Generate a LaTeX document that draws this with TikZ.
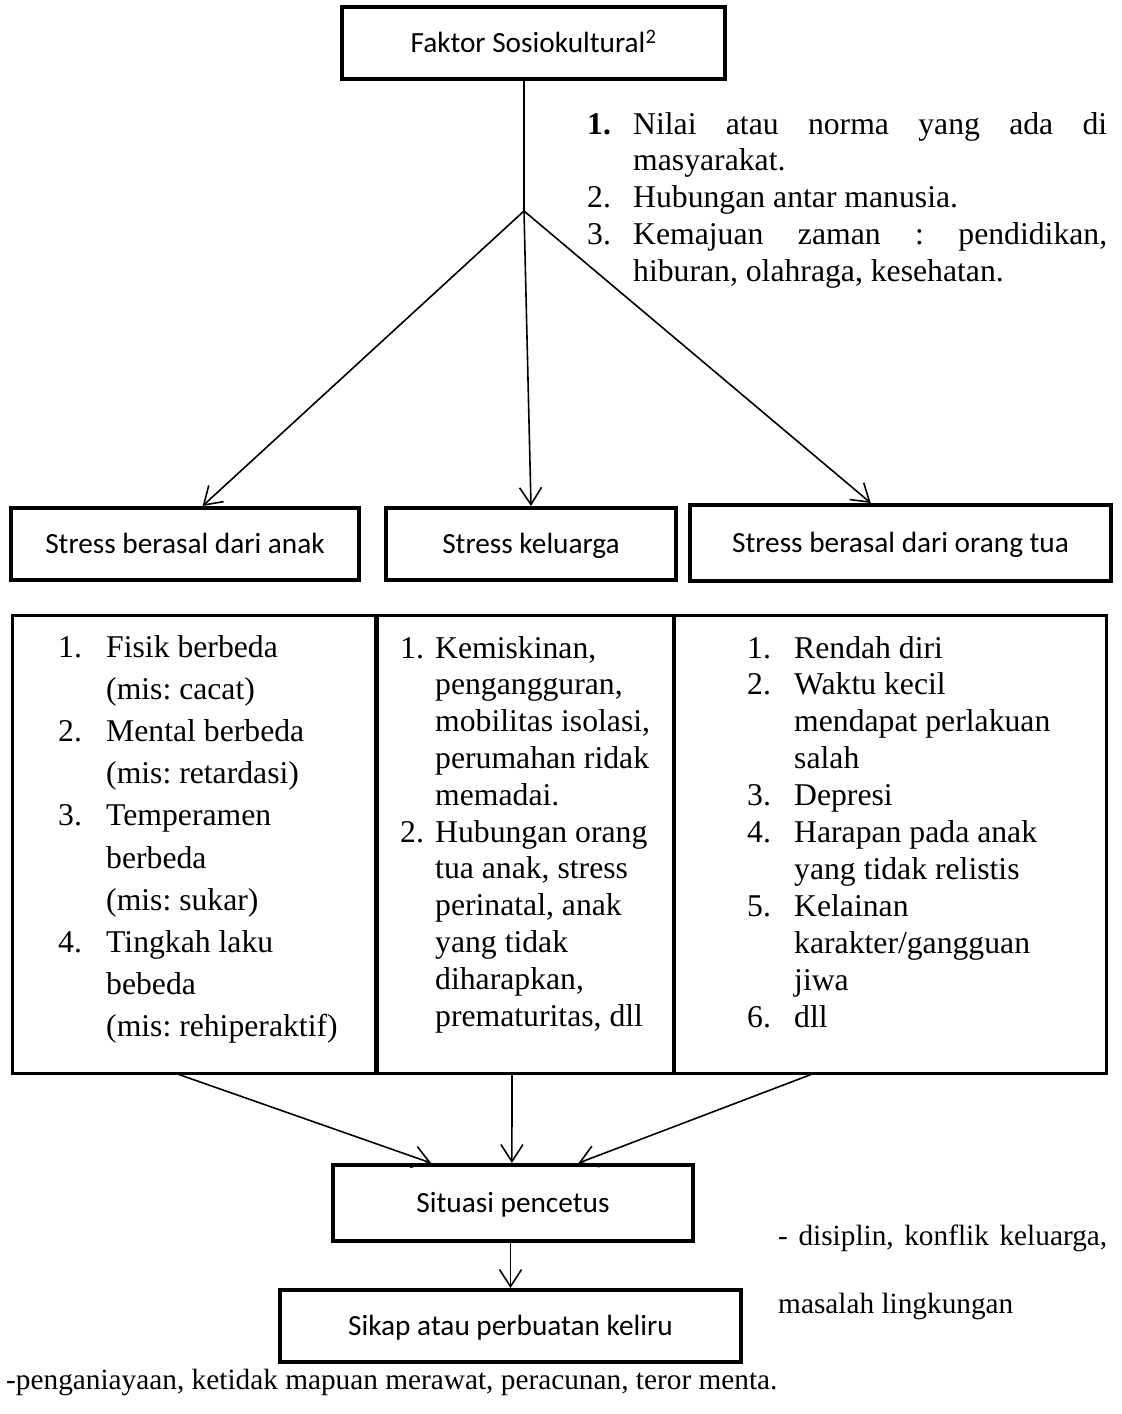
\documentclass[tikz,border=0pt]{standalone}
\usepackage{fontspec}
\setmainfont{Liberation Serif}
\newfontfamily\calibri{Carlito}
\usetikzlibrary{arrows.meta,positioning,calc}
\frenchspacing

\begin{document}
\begin{tikzpicture}[
  x=1pt, y=-1pt,
  kotak/.style={rectangle, draw=black, line width=4pt, inner sep=0pt,
                font=\calibri\fontsize{29.3}{35}\selectfont,
                text height=19pt, text depth=0pt},
  kolom/.style={rectangle, draw=black, line width=3pt, inner sep=0pt},
  daftar/.style={inner sep=0pt, anchor=base west},
  ket/.style={inner sep=0pt, anchor=base west, font=\fontsize{29.3}{35}\selectfont},
  garis/.style={line width=1.6pt},
  arr/.style={-{Straight Barb[length=17pt,width=22pt]}, line width=1.6pt}
]
\useasboundingbox (0,0) rectangle (1122,1414);

%% top
\node[kotak, minimum width=383pt, minimum height=72pt] (faktor) at (533.5,43)
  {Faktor Sosiokultural\textsuperscript{2}};
\coordinate (cabang) at (524,211);

\node[daftar, font=\fontsize{31.7}{36.8}\selectfont] (nilai) at (587,134)
  {\begin{tabular}[t]{@{}p{46pt}@{}l@{}}
   \textbf{1.} & \makebox[474pt][s]{Nilai atau norma yang ada di}\\
               & masyarakat.\\
   2.          & Hubungan antar manusia.\\
   3.          & \makebox[474pt][s]{Kemajuan zaman : pendidikan,}\\
               & hiburan, olahraga, kesehatan.
   \end{tabular}};

%% stress
\node[kotak, minimum width=348pt, minimum height=72pt] (anak) at (185,544)
  {Stress berasal dari anak};
\node[kotak, minimum width=290pt, minimum height=72pt] (keluarga) at (531,544)
  {Stress keluarga};
\node[kotak, minimum width=421pt, minimum height=76pt] (ortu) at (900.5,543)
  {Stress berasal dari orang tua};

%% table
\node[kolom, minimum width=363pt, minimum height=458pt] (kol1) at (193.5,844) {};
\node[kolom, minimum width=297pt, minimum height=458pt] (kol2) at (525.5,844) {};
\node[kolom, minimum width=433pt, minimum height=458pt] (kol3) at (889.5,844) {};

\node[daftar, font=\fontsize{31.7}{42.2}\selectfont] (isi1) at (58,657)
  {\begin{tabular}[t]{@{}p{48pt}@{}l@{}}
   1. & Fisik berbeda\\
      & (mis: cacat)\\
   2. & Mental berbeda\\
      & (mis: retardasi)\\
   3. & Temperamen\\
      & berbeda\\
      & (mis: sukar)\\
   4. & Tingkah laku\\
      & bebeda\\
      & (mis: rehiperaktif)
   \end{tabular}};

\node[daftar, font=\fontsize{31.7}{36.8}\selectfont] (isi2) at (400,658)
  {\begin{tabular}[t]{@{}p{35pt}@{}l@{}}
   1. & Kemiskinan,\\
      & pengangguran,\\
      & mobilitas isolasi,\\
      & perumahan ridak\\
      & memadai.\\
   2. & Hubungan orang\\
      & tua anak, stress\\
      & perinatal, anak\\
      & yang tidak\\
      & diharapkan,\\
      & prematuritas, dll
   \end{tabular}};

\node[daftar, font=\fontsize{31.7}{36.9}\selectfont] (isi3) at (747,658)
  {\begin{tabular}[t]{@{}p{47pt}@{}l@{}}
   1. & Rendah diri\\
   2. & Waktu kecil\\
      & mendapat perlakuan\\
      & salah\\
   3. & Depresi\\
   4. & Harapan pada anak\\
      & yang tidak relistis\\
   5. & Kelainan\\
      & karakter/gangguan\\
      & jiwa\\
   6. & dll
   \end{tabular}};

%% bottom
\node[kotak, minimum width=360pt, minimum height=76pt] (situasi) at (513,1203)
  {Situasi pencetus};
\node[kotak, minimum width=461pt, minimum height=72pt] (sikap) at (510.5,1326)
  {Sikap atau perbuatan keliru};

\node[ket] (disiplin) at (778,1245) {\makebox[329pt][s]{- disiplin, konflik keluarga,}};
\node[ket] (lingkungan) at (778,1313) {masalah lingkungan};
\node[ket] (aniaya) at (6,1389) {-penganiayaan, ketidak mapuan merawat, peracunan, teror menta.};

\draw[garis] (faktor.south -| cabang) -- (cabang);
\draw[arr] (cabang) -- ($(anak.north west)!0.55!(anak.north east)$);
\draw[arr] (cabang) -- (keluarga.north);
\draw[arr] (cabang) -- ($(ortu.north west)!0.43!(ortu.north east)$);

\draw[arr] ($(kol1.south west)!0.46!(kol1.south east)$) -- ($(situasi.north west)!0.275!(situasi.north east)$);
\draw[arr] ($(kol2.south west)!0.455!(kol2.south east)$) -- ($(situasi.north west)!0.497!(situasi.north east)$);
\draw[arr] ($(kol3.south west)!0.32!(kol3.south east)$) -- ($(situasi.north west)!0.68!(situasi.north east)$);
\draw[arr] (situasi.south -| sikap.north) -- (sikap.north);
\end{tikzpicture}
\end{document}
